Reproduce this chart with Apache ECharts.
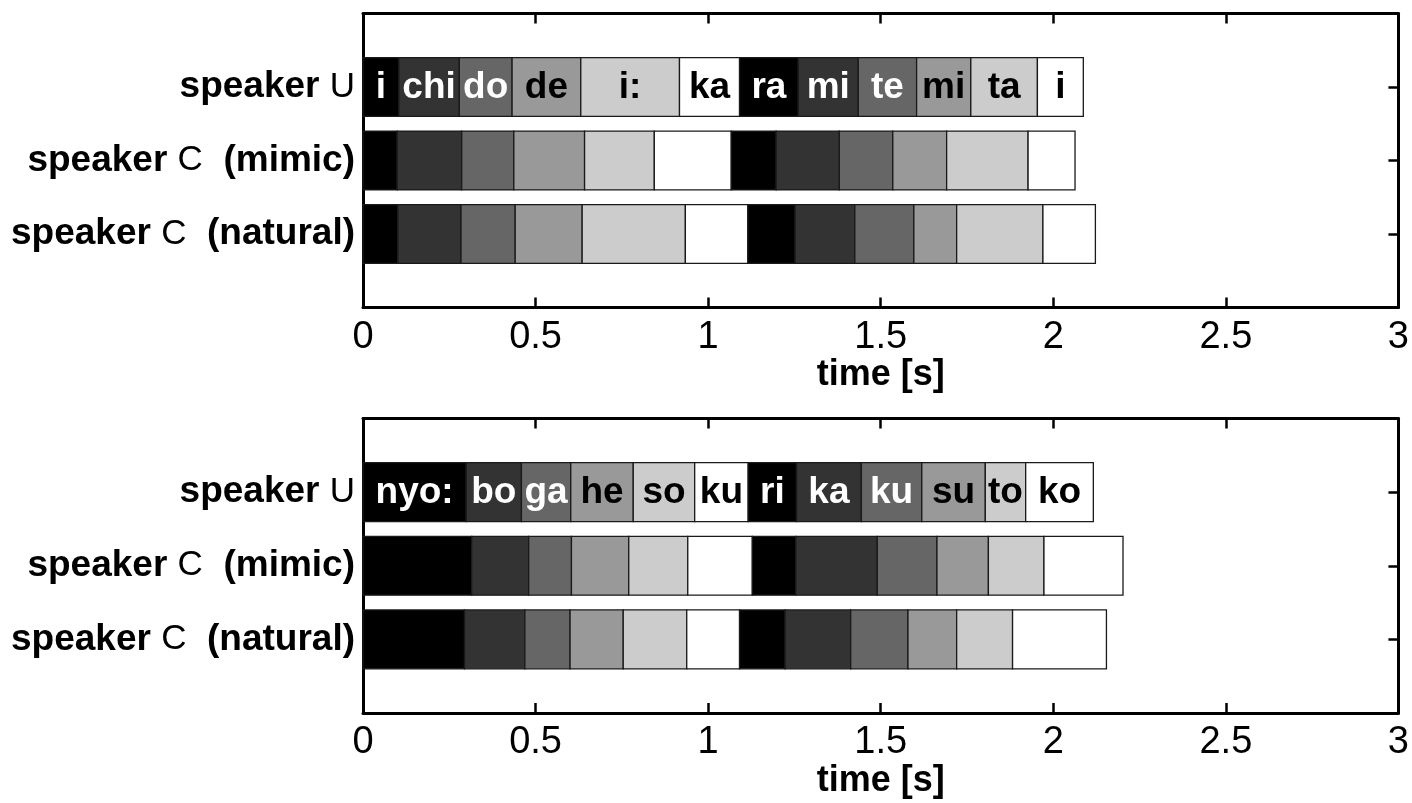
<!DOCTYPE html>
<html>
<head>
<meta charset="utf-8">
<script src="https://cdn.jsdelivr.net/npm/echarts@6/dist/echarts.min.js"></script>
<style>
html,body{margin:0;padding:0;background:#fff;}
#chart{width:1412px;height:803px;}
</style>
</head>
<body>
<div id="chart"></div>
<script>
// ---- data ----
const xTicks = [0, 0.5, 1, 1.5, 2, 2.5, 3];
const speakers = ['U', 'C', 'C'];
const conditions = ['', '(mimic)', '(natural)'];
const shades = ['#000000', '#333333', '#666666', '#999999', '#cccccc', '#ffffff'];

// Panel 1: "ichidode i: karamitemitai"
const topSyllables = ['i', 'chi', 'do', 'de', 'i:', 'ka', 'ra', 'mi', 'te', 'mi', 'ta', 'i'];
const topU       = [0.104, 0.279, 0.432, 0.631, 0.917, 1.091, 1.261, 1.435, 1.604, 1.761, 1.954, 2.087];
const topMimic   = [0.099, 0.286, 0.437, 0.642, 0.844, 1.067, 1.197, 1.380, 1.535, 1.691, 1.927, 2.063];
const topNatural = [0.101, 0.284, 0.441, 0.635, 0.934, 1.115, 1.252, 1.425, 1.596, 1.720, 1.970, 2.122];

// Panel 2: "nyo: bogaheso kurikakusutoko"
const bottomSyllables = ['nyo:', 'bo', 'ga', 'he', 'so', 'ku', 'ri', 'ka', 'ku', 'su', 'to', 'ko'];
const bottomU       = [0.299, 0.459, 0.602, 0.783, 0.961, 1.116, 1.256, 1.444, 1.619, 1.803, 1.920, 2.116];
const bottomMimic   = [0.315, 0.480, 0.604, 0.770, 0.941, 1.128, 1.254, 1.490, 1.663, 1.812, 1.973, 2.202];
const bottomNatural = [0.294, 0.469, 0.600, 0.754, 0.938, 1.091, 1.223, 1.413, 1.579, 1.720, 1.882, 2.154];

// ---- build ----
const FONT = '"Liberation Sans", Arial, Helvetica, sans-serif';

function rowData(rows) {
  const out = [];
  rows.forEach((ends, r) => {
    let start = 0;
    ends.forEach((end, j) => { out.push([start, end, r + 1, j]); start = end; });
  });
  return out;
}

function makeSeries(gridIdx, syllables, rows) {
  return {
    type: 'custom', xAxisIndex: gridIdx * 2, yAxisIndex: gridIdx * 2,
    data: rowData(rows), encode: { x: [0, 1], y: 2 }, clip: false,
    renderItem: function (params, api) {
      const s = api.value(0), e = api.value(1), r = api.value(2), j = api.value(3);
      const p0 = api.coord([s, r]);
      const p1 = api.coord([e, r]);
      const unit = Math.abs(api.coord([s, r + 1])[1] - p0[1]);
      const h = unit * 0.8;
      const children = [{
        type: 'rect',
        shape: { x: p0[0], y: p0[1] - h / 2, width: p1[0] - p0[0], height: h },
        style: { fill: shades[j % shades.length], stroke: '#1a1a1a', lineWidth: 1.3 }
      }];
      if (r === 1) {
        children.push({
          type: 'text',
          style: {
            text: syllables[j], x: (p0[0] + p1[0]) / 2, y: p0[1] + 1,
            align: 'center', verticalAlign: 'middle',
            fill: (j % shades.length) < 3 ? '#ffffff' : '#000000',
            font: 'bold 37px ' + FONT
          }
        });
      }
      return { type: 'group', children: children };
    }
  };
}

const yLabels = ['', ...speakers.map((s, i) =>
  '{b|speaker }{n|' + s + '}' + (conditions[i] ? '{b|  ' + conditions[i] + '}' : '')), ''];

const grids = [
  { left: 363, width: 1039, top: 13.5, height: 294 },
  { left: 363, width: 1039, top: 418.5, height: 294.5 }
];

function mkLine() { return { show: true, onZero: false, lineStyle: { color: '#000', width: 3 } }; }
function mkTick() { return { show: true, inside: true, length: 10, lineStyle: { color: '#000', width: 2.5 } }; }

const xAxes = [], yAxes = [];
grids.forEach((g, gi) => {
  xAxes.push({
    gridIndex: gi, type: 'value', position: 'bottom',
    min: xTicks[0], max: xTicks[xTicks.length - 1], interval: xTicks[1] - xTicks[0],
    name: 'time [s]', nameLocation: 'middle', nameGap: 48,
    nameTextStyle: { fontFamily: FONT, fontWeight: 'bold', fontSize: 36, color: '#000' },
    axisLine: mkLine(), axisTick: mkTick(),
    axisLabel: { show: true, margin: 11, fontFamily: FONT, fontSize: 38, color: '#000', formatter: v => String(v) },
    splitLine: { show: false }
  });
  xAxes.push({
    gridIndex: gi, type: 'value', position: 'top',
    min: xTicks[0], max: xTicks[xTicks.length - 1], interval: xTicks[1] - xTicks[0],
    axisLine: mkLine(), axisTick: mkTick(),
    axisLabel: { show: false },
    splitLine: { show: false }
  });
  yAxes.push({
    gridIndex: gi, type: 'value', position: 'left', inverse: true,
    min: 0, max: 4, interval: 1,
    axisLine: mkLine(), axisTick: { show: false },
    axisLabel: {
      show: true, margin: 8, color: '#000', formatter: v => yLabels[v] || '',
      rich: {
        b: { fontFamily: FONT, fontWeight: 'bold', fontSize: 37, color: '#000' },
        n: { fontFamily: FONT, fontWeight: 'normal', fontSize: 35, color: '#000' }
      }
    },
    splitLine: { show: false }
  });
  yAxes.push({
    gridIndex: gi, type: 'value', position: 'right', inverse: true,
    min: 0, max: 4, interval: 1,
    axisLine: mkLine(), axisTick: mkTick(), axisLabel: { show: false },
    splitLine: { show: false }
  });
});

const chart = echarts.init(document.getElementById('chart'), null, { renderer: 'canvas' });
chart.setOption({
  animation: false, backgroundColor: '#ffffff',
  grid: grids, xAxis: xAxes, yAxis: yAxes,
  series: [
    makeSeries(0, topSyllables, [topU, topMimic, topNatural]),
    makeSeries(1, bottomSyllables, [bottomU, bottomMimic, bottomNatural])
  ]
});
</script>
</body>
</html>
